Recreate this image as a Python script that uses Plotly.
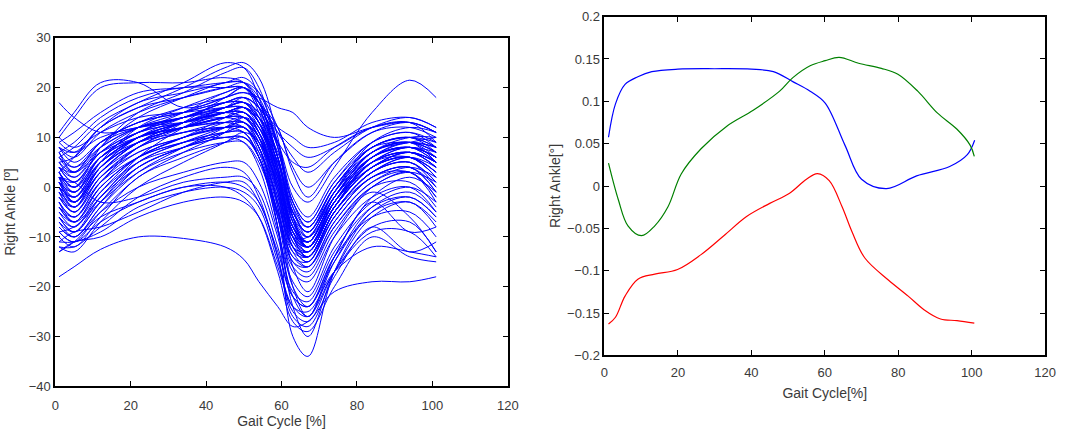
import plotly.graph_objects as go

# ---------------- Left panel data: many gait cycles (Right Ankle [deg]) ----------------
cycle_x = [1, 5, 12, 22, 34, 45, 50, 54, 59, 63, 67, 74, 84, 94, 101]

ankle_cycles = [
    [3, 6, 12, 16, 20, 24, 25, 22, 10, -6, -12, -4, 4, 7, 5],
    [6, 8, 13, 17, 21, 25, 24, 18, 4, -10, -14, -5, 3, 6, 4],
    [2, 0, 8, 15, 19, 23, 24, 20, 8, -4, -10, -3, 5, 8, 6],
    [10, 14, 20, 21, 21, 22, 21, 16, 6, -5, -8, 0, 8, 10, 8],
    [11, 15, 21, 21, 16, 18, 20, 17, 12, 3, -2, 5, 11, 12, 10],
    [17, 14, 11, 12, 14, 16, 17, 14, 6, -6, -12, -4, 6, 9, 7],
    [4, 3, 9, 13, 16, 18, 19, 18, 16, 15, 12, 10, 12, 13, 11],
    [1, -1, 6, 11, 14, 17, 18, 16, 12, 10, 8, 9, 13, 14, 12],
    [-2, -4, 3, 9, 12, 15, 16, 14, 9, 5, 4, 8, 12, 13, 11],
    [0, -3, 4, 10, 13, 16, 18, 16, 9, 0, -3, 4, 15, 21.5, 18],
    [0, -4, 4, 9, 12, 14, 15, 11, 0, -10, -12, -3, 5, 7, 4],
    [-3, -6, 1, 7, 10, 13, 14, 10, -2, -12, -13, -4, 4, 6, 2],
    [2, -1, 5, 10, 12, 14, 15, 12, 2, -8, -11, -2, 6, 8, 6],
    [5, 2, 7, 11, 13, 15, 16, 13, 4, -7, -10, -1, 7, 9, 7],
    [-6, -9, -3, 5, 9, 12, 13, 9, -3, -13, -14, -5, 3, 5, 0],
    [-1, -5, 2, 8, 11, 13, 13, 8, -4, -14, -15, -6, 2, 4, -1],
    [7, 4, 8, 12, 14, 16, 17, 15, 6, -5, -9, 0, 8, 10, 9],
    [-4, -7, 0, 6, 10, 12, 12, 7, -5, -15, -16, -7, 1, 3, -3],
    [3, 0, 6, 10, 12, 13, 13, 9, -1, -10, -12, -3, 4, 6, 3],
    [-8, -10, -4, 4, 8, 11, 12, 8, -3, -12, -14, -6, 2, 3, -2],
    [1, -3, 3, 8, 11, 12, 12, 9, 1, -8, -11, -3, 5, 7, 5],
    [4, 1, 7, 11, 13, 15, 16, 14, 7, -3, -7, 1, 8, 9, 8],
    [-2, -5, 2, 7, 10, 12, 13, 10, 0, -11, -13, -4, 5, 8, 6],
    [6, 3, 7, 10, 12, 14, 14, 11, 2, -9, -12, -3, 6, 8, 5],
    [-5, -8, -1, 6, 10, 14, 16, 13, 2, -10, -14, -5, 3, 5, 1],
    [0, -2, 5, 9, 11, 12, 11, 6, -5, -14, -16, -8, 0, 3, -2],
    [2, -3, 4, 10, 14, 17, 18, 14, 3, -9, -13, -4, 5, 7, 5],
    [8, 5, 9, 12, 14, 17, 18, 16, 8, -3, -8, 0, 8, 10, 7],
    [-7, -9, -2, 5, 9, 11, 11, 6, -6, -16, -18, -9, -1, -6, -13],
    [3, -1, 6, 11, 15, 19, 20, 16, 4, -8, -12, -3, 6, 8, 6],
    [-6, -9, -3, 4, 8, 11, 12, 8, -6, -20, -24, -14, -3, -9, -8],
    [-3, -6, 0, 6, 9, 11, 11, 6, -8, -22, -26, -15, -4, -1, -5],
    [1, -2, 4, 9, 12, 14, 14, 10, -4, -20, -26, -14, -2, 2, -1],
    [-10, -12, -6, 2, 6, 9, 10, 6, -8, -24, -30, -17, -6, -3, -8],
    [-4, -7, 0, 6, 10, 12, 12, 8, -8, -30, -34, -17, -5, -2, -6],
    [-12, -12, -8, -2, 2, 4, 3, -2, -14, -26, -28, -18, -8, -13, -11],
    [-9, -11, -7, -3, 0, 1, 0, -3, -14, -25, -27, -17, -8, -7, -13],
    [-11, -11, -9, -4, -1, 0, -1, -4, -15, -24, -26, -17, -9, -9, -14],
    [-13, -11, -6, -3, 0, 0, -2, -6, -17, -27, -29, -20, -10, -14, -15],
    [-18, -16, -12.5, -10, -10.3, -12, -14.5, -19, -24, -28, -27, -21, -19, -19, -18],
    [-13, -11, -10, -6, -3, -2, -3, -6, -16, -24, -25, -17, -12, -13, -14],
    [2, 1, -3, -2, 1, 2, 2, -1, -12, -22, -24, -15, -5, -3, -7],
    [-11, -9, -8, -5, -1, 1, 1, -3, -13, -22, -24, -14, -6, -5, -10],
    [-8, -10, -5, 0, 3, 5, 5, 1, -10, -21, -23, -13, -4, -2, -6],
    [10, 8, 11, 14, 15, 16, 16, 13, 5, -6, -10, -1, 9, 12, 11],
    [9, 7, 10, 12, 13, 14, 13, 10, 2, -8, -11, -2, 7, 9, 10],
    [7, 3, 8, 12, 14, 15, 14, 10, 1, -9, -11, -2, 7, 10, 10],
    [-9, -11, -5, 2, 7, 11, 14, 12, 3, -8, -12, -4, 4, 7, 4],
    [-12, -13, -7, 0, 5, 9, 11, 9, 0, -11, -14, -5, 2, 4, -1],
    [4, 2, 8, 14, 18, 21, 21, 17, 6, -6, -11, -2, 7, 9, 7],
    [0, -4, 2, 8, 13, 18, 20, 17, 6, -7, -12, -4, 4, 6, 2],
    [-3, -7, -2, 6, 12, 16, 17, 13, 1, -12, -15, -6, 2, 4, 0],
    [5, 3, 9, 13, 15, 17, 17, 14, 5, -5, -9, -1, 7, 9, 5],
    [-5, -7, -1, 5, 8, 10, 10, 6, -5, -15, -17, -8, 0, 1, -4],
    [8, 6, 11, 15, 18, 20, 20, 17, 11, 6, 3, 7, 12, 14, 12],
    [1, -3, 3, 9, 13, 16, 17, 15, 11, 8, 6, 8, 12, 13, 9],
    [-6, -8, -2, 4, 8, 10, 10, 7, -2, -10, -10, -2, 5, 6, 2],
    [2, 1, 7, 12, 15, 18, 19, 17, 9, -2, -6, 2, 9, 11, 8],
    [-2, -5, 1, 6, 9, 10, 9, 4, -9, -19, -22, -12, -3, 0, -3],
    [3, 0, 5, 10, 13, 15, 15, 11, -1, -16, -21, -10, 0, 3, 1],
    [9, 11, 15, 19, 20, 21, 21, 18, 8, -5, -9, -1, 8, 10, 8],
    [7, 9, 14, 18, 20, 20, 20, 15, 3, -9, -12, -3, 6, 8, 6],
    [5, 6, 12, 17, 19, 21, 22, 19, 9, -3, -7, 1, 9, 11, 9],
    [-1, -3, 5, 12, 16, 19, 20, 17, 6, -7, -11, -2, 6, 8, 5],
    [0, -2, 5, 10, 13, 15, 16, 13, 3, -9, -12, -3, 5, 7, 4],
    [3, 0, 6, 11, 14, 16, 16, 12, 2, -10, -13, -4, 4, 6, 3],
    [-4, -6, 1, 8, 12, 15, 15, 11, 0, -12, -15, -5, 3, 5, 1],
    [6, 4, 9, 13, 15, 17, 17, 13, 3, -8, -11, -2, 6, 9, 8],
    [-7, -10, -4, 3, 8, 12, 14, 11, 1, -10, -13, -4, 4, 7, 5],
    [2, -2, 4, 9, 12, 14, 14, 10, -1, -12, -14, -5, 3, 6, 3],
    [-9, -8, -3, 3, 7, 9, 9, 5, -6, -17, -19, -10, -2, 0, -5],
    [4, 1, 6, 10, 13, 15, 16, 13, 5, -4, -8, 0, 7, 9, 6],
    [-1, -4, 3, 9, 13, 15, 15, 12, 4, -6, -9, -1, 6, 8, 7],
    [1, -1, 5, 10, 12, 13, 12, 8, -3, -13, -16, -7, 1, 4, 2],
    [8, 7, 12, 16, 18, 20, 21, 19, 12, 4, 0, 5, 11, 13, 11],
]

# ---------------- Right panel data: three component curves ----------------
blue_x = [1.1, 3, 5.6, 9.1, 12.9, 20, 30, 40, 46, 51.4, 56, 60.1, 65.5, 70, 76.8, 85, 94, 98.8, 100.8]
blue_y = [0.0576, 0.097, 0.12, 0.129, 0.135, 0.138, 0.1385, 0.138, 0.135, 0.123, 0.112, 0.098,
          0.048, 0.008, -0.003, 0.012, 0.023, 0.037, 0.054]

green_x = [1.1, 3.8, 6.4, 10.1, 13.7, 17.3, 20.9, 26.3, 33.4, 40.5, 47.7, 51.3, 56, 60.1, 63.9,
           69.2, 75.4, 79.9, 85.3, 90.7, 96, 99.6, 100.7]
green_y = [0.027, -0.0165, -0.047, -0.0587, -0.047, -0.0245, 0.0142, 0.044, 0.071, 0.0895, 0.112,
           0.128, 0.142, 0.148, 0.152, 0.145, 0.139, 0.132, 0.112, 0.086, 0.067, 0.048, 0.035]

red_x = [1.1, 3, 5.6, 9.1, 13.7, 19.9, 26.3, 32.5, 38.7, 45, 50.4, 55, 58, 61.2, 64.7, 67.4, 70.9,
         77.3, 82.7, 87, 91.5, 96, 100.7]
red_y = [-0.163, -0.155, -0.13, -0.11, -0.104, -0.0986, -0.081, -0.0587, -0.036, -0.0205, -0.0085,
         0.008, 0.0146, 0.0063, -0.0245, -0.054, -0.085, -0.111, -0.130, -0.146, -0.157, -0.159, -0.162]

left_yticks = [-40, -30, -20, -10, 0, 10, 20, 30]
left_ytext = ["\u221240", "\u221230", "\u221220", "\u221210", "0", "10", "20", "30"]
right_yticks = [-0.2, -0.15, -0.1, -0.05, 0, 0.05, 0.1, 0.15, 0.2]
right_ytext = ["\u22120.2", "\u22120.15", "\u22120.1", "\u22120.05", "0", "0.05", "0.1", "0.15", "0.2"]
x_ticks = [0, 20, 40, 60, 80, 100, 120]

W, H = 1069, 429
fig = go.Figure()

for cyc in ankle_cycles:
    fig.add_trace(go.Scatter(x=cycle_x, y=cyc, mode="lines", xaxis="x", yaxis="y",
                             line=dict(color="#0000ff", width=1, shape="spline", smoothing=1.0),
                             showlegend=False, hoverinfo="skip"))

for xs, ys, col in [(blue_x, blue_y, "#0000ff"), (green_x, green_y, "#008000"), (red_x, red_y, "#ff0000")]:
    fig.add_trace(go.Scatter(x=xs, y=ys, mode="lines", xaxis="x2", yaxis="y2",
                             line=dict(color=col, width=1.2, shape="spline", smoothing=1.0),
                             showlegend=False, hoverinfo="skip"))

def px_x(p):
    return p / W

def px_y(p):
    return 1 - p / H

family = "Liberation Sans, Arial, Helvetica, sans-serif"
tick_font = dict(family=family, size=13, color="#3a3a3a")
title_font = dict(family=family, size=14, color="#3a3a3a")
axis_common = dict(showline=True, linecolor="#000000", linewidth=1.8, mirror="ticks",
                   ticks="inside", ticklen=5, tickwidth=1, tickcolor="#000000",
                   showgrid=False, zeroline=False, tickfont=tick_font)

fig.update_layout(
    width=W, height=H,
    margin=dict(l=0, r=0, t=0, b=0),
    paper_bgcolor="white", plot_bgcolor="white",
    font=tick_font,
    xaxis=dict(domain=[px_x(52), px_x(511)], range=[0, 120], tickvals=x_ticks, anchor="y",
               ticklabelstandoff=6,
               title=dict(text="Gait Cycle [%]", font=title_font, standoff=6), **axis_common),
    yaxis=dict(domain=[px_y(393), px_y(32)], range=[-40, 30], tickvals=left_yticks,
               ticktext=left_ytext, anchor="x",
               title=dict(text="Right Ankle [º]", font=title_font, standoff=10), **axis_common),
    xaxis2=dict(domain=[px_x(609), px_x(1056)], range=[0, 120], tickvals=x_ticks, anchor="y2",
                ticklabelstandoff=4,
                title=dict(text="Gait Cycle[%]", font=title_font, standoff=9), **axis_common),
    yaxis2=dict(domain=[px_y(361), px_y(10)], range=[-0.2, 0.2], tickvals=right_yticks,
                ticktext=right_ytext, anchor="x2",
                title=dict(text="Right Ankle[°]", font=title_font, standoff=3), **axis_common),
)

fig.write_html("out.html")
